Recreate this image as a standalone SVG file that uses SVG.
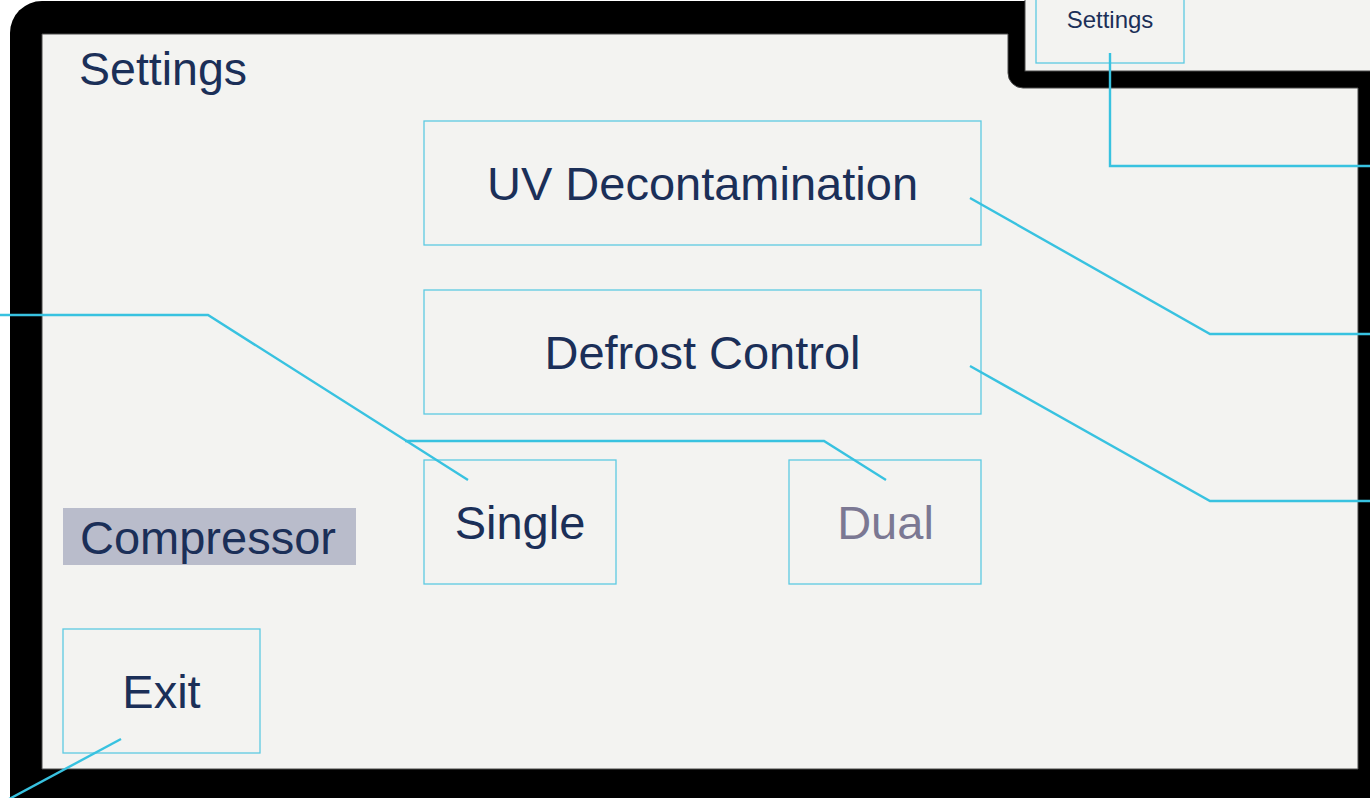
<svg xmlns="http://www.w3.org/2000/svg" width="1370" height="798" viewBox="0 0 1370 798">
  <style>
    .box { fill: none; stroke: #5ccae2; stroke-width: 1.3; }
    .lbl { font-family: "Liberation Sans", Arial, sans-serif; fill: #1b2f58; }
    .big { font-size: 47px; }
    .conn { fill: none; stroke: #38c2e0; stroke-width: 2.4; stroke-linejoin: miter; }
    .screen { fill: #f3f3f1; stroke: #4a4a4a; stroke-width: 1; }
  </style>
  <rect x="0" y="0" width="1370" height="798" fill="#ffffff"/>
  <g id="frame">
    <rect x="10" y="1" width="1420" height="860" rx="32" ry="32" fill="#000000"/>
    <rect class="screen" x="1025" y="-5" width="400" height="76"/>
    <path class="screen" d="M42,34 H1008 V73 A15 15 0 0 0 1023,88 H1358 V769 H42 Z"/>
  </g>
  <g id="title">
    <text class="lbl" x="79" y="85" font-size="46.5">Settings</text>
  </g>
  <g id="settings-tab">
    <rect class="box" x="1036" y="-2" width="148" height="65"/>
    <text class="lbl" x="1110" y="28" font-size="24" text-anchor="middle">Settings</text>
  </g>
  <g id="uv-decontamination">
    <rect class="box" x="424" y="121" width="557" height="124"/>
    <text class="lbl big" x="702.5" y="200" text-anchor="middle">UV Decontamination</text>
  </g>
  <g id="defrost-control">
    <rect class="box" x="424" y="290" width="557" height="124"/>
    <text class="lbl big" x="702.5" y="369" text-anchor="middle">Defrost Control</text>
  </g>
  <g id="single">
    <rect class="box" x="424" y="460" width="192" height="124"/>
    <text class="lbl big" x="520" y="539" text-anchor="middle">Single</text>
  </g>
  <g id="dual">
    <rect class="box" x="789" y="460" width="192" height="124"/>
    <text class="lbl big" x="885.5" y="539" text-anchor="middle" style="fill:#7b7893">Dual</text>
  </g>
  <g id="compressor">
    <rect x="63" y="508" width="293" height="57" fill="#b9bccb"/>
    <text class="lbl big" x="80" y="554">Compressor</text>
  </g>
  <g id="exit">
    <rect class="box" x="63" y="629" width="197" height="124"/>
    <text class="lbl big" x="161.5" y="708" text-anchor="middle">Exit</text>
  </g>
  <g id="connectors">
    <polyline class="conn" points="1110,53 1110,166 1372,166"/>
    <polyline class="conn" points="970,198 1210,334 1372,334"/>
    <polyline class="conn" points="970,366 1210,501 1372,501"/>
    <polyline class="conn" points="-2,315 208,315 468,480"/>
    <polyline class="conn" points="886,480 824,441 405,441"/>
    <polyline class="conn" points="121,739 -2,805"/>
  </g>
</svg>
